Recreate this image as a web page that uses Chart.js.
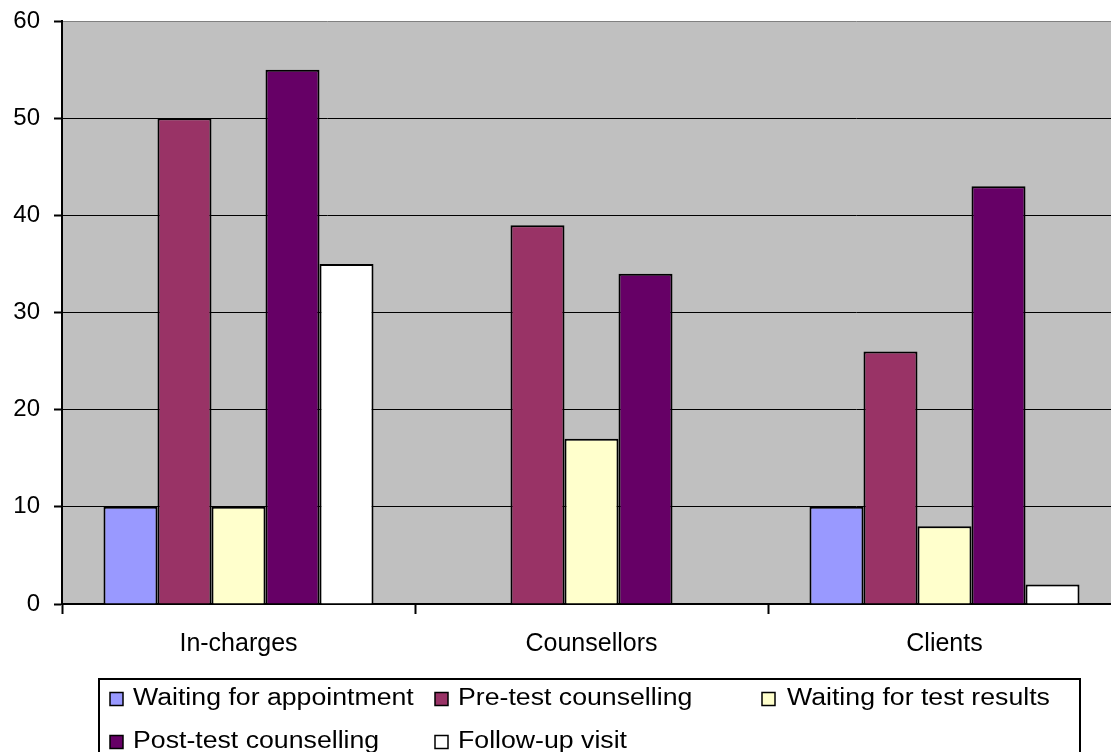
<!DOCTYPE html>
<html>
<head>
<meta charset="utf-8">
<script src="https://cdn.jsdelivr.net/npm/chart.js@4/dist/chart.umd.min.js"></script>
<style>
  html, body { margin: 0; padding: 0; background: #fff; overflow: hidden; }
  canvas { display: block; }
</style>
</head>
<body>
<canvas id="chart" width="1125" height="752" style="width:1125px;height:752px"></canvas>
<script>
// Survey groups on the x axis
const categories = ['In-charges', 'Counsellors', 'Clients'];

// One array per series, values per group
const waitingForAppointment = [10, 0, 10];
const preTestCounselling = [50, 39, 26];
const waitingForTestResults = [10, 17, 8];
const postTestCounselling = [55, 34, 43];
const followUpVisit = [35, 0, 2];

const seriesNames = [
  'Waiting for appointment',
  'Pre-test counselling',
  'Waiting for test results',
  'Post-test counselling',
  'Follow-up visit'
];
const seriesColors = ['#9999FF', '#993366', '#FFFFCC', '#660066', '#FFFFFF'];

// Value axis range
const yMin = 0;
const yMax = 60;
const yStep = 10;

const seriesValues = [
  waitingForAppointment,
  preTestCounselling,
  waitingForTestResults,
  postTestCounselling,
  followUpVisit
];

const FONT = "'Liberation Sans', Arial, sans-serif";
Chart.defaults.font.family = FONT;
Chart.defaults.color = '#000';

// Grey plot background
const plotBackground = {
  id: 'plotBackground',
  beforeDraw(chart) {
    const { ctx, chartArea: a } = chart;
    ctx.save();
    ctx.fillStyle = '#C0C0C0';
    ctx.fillRect(a.left, a.top, a.right - a.left, a.bottom - a.top);
    ctx.restore();
  }
};

// Boxed legend laid out in three columns
const boxedLegend = {
  id: 'boxedLegend',
  afterDraw(chart) {
    const ctx = chart.ctx;
    const cols = [{ m: 110, t: 133 }, { m: 435, t: 458 }, { m: 762, t: 787 }];
    const rows = [699, 742];
    ctx.save();
    ctx.strokeStyle = '#000';
    ctx.lineWidth = 2;
    ctx.strokeRect(99, 679, 981, 90);
    ctx.font = '23px ' + FONT;
    ctx.textBaseline = 'middle';
    ctx.textAlign = 'left';
    chart.data.datasets.forEach((ds, i) => {
      const c = cols[i % 3];
      const y = rows[Math.floor(i / 3)];
      ctx.fillStyle = ds.backgroundColor;
      ctx.fillRect(c.m, y - 6.5, 13, 13);
      ctx.lineWidth = 1.5;
      ctx.strokeStyle = '#000';
      ctx.strokeRect(c.m, y - 6.5, 13, 13);
      ctx.save();
      ctx.translate(c.t, y);
      ctx.scale(1.16, 1);
      ctx.fillStyle = '#000';
      ctx.fillText(ds.label, 0, 0);
      ctx.restore();
    });
    ctx.restore();
  }
};

new Chart(document.getElementById('chart'), {
  type: 'bar',
  data: {
    labels: categories,
    datasets: seriesNames.map((name, i) => ({
      label: name,
      data: seriesValues[i],
      backgroundColor: seriesColors[i],
      borderColor: '#000',
      borderWidth: 2,
      categoryPercentage: 0.765,
      barPercentage: 1
    }))
  },
  options: {
    responsive: false,
    animation: false,
    layout: { padding: { top: 20, right: 4, left: 0, bottom: 0 } },
    plugins: {
      legend: { display: false },
      tooltip: { enabled: false }
    },
    scales: {
      x: {
        grid: {
          offset: true,
          drawOnChartArea: false,
          drawTicks: true,
          tickLength: 10,
          tickWidth: 2,
          tickColor: '#000',
          color: '#000'
        },
        border: { display: true, color: '#000', width: 2 },
        ticks: {
          font: { size: 25 },
          color: '#000',
          padding: 15,
          maxRotation: 0
        },
        afterFit(scale) { scale.height = 148; }
      },
      y: {
        min: yMin,
        max: yMax,
        ticks: {
          stepSize: yStep,
          font: { size: 24, lineHeight: 0.6 },
          color: '#000',
          padding: 14
        },
        grid: {
          color: (c) => (c.tick && c.tick.value === yMax ? '#808080' : '#000'),
          lineWidth: 1,
          tickLength: 8,
          tickWidth: 2,
          tickColor: '#000'
        },
        border: { display: true, color: '#000', width: 2 },
        afterFit(scale) { scale.width = 62; }
      }
    }
  },
  plugins: [plotBackground, boxedLegend]
});
</script>
</body>
</html>
